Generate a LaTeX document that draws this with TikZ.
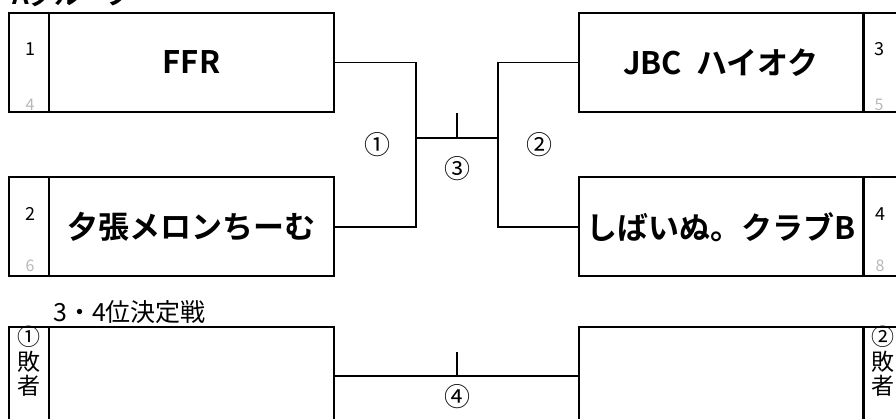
\documentclass[tikz,border=0pt]{standalone}
\usepackage{fontspec}
\setmainfont{Noto Sans CJK JP}[BoldFont={Noto Sans CJK JP Bold}]
\begin{document}
\begin{tikzpicture}[x=1pt,y=-1pt,
  box/.style={draw=black,line width=2pt,rectangle,inner sep=0pt,anchor=center},
  team/.style={box,minimum width=285pt,minimum height=99pt,font=\fontsize{31}{31}\selectfont\bfseries},
  seedbox/.style={box,minimum width=40pt,minimum height=99pt},
  seed/.style={inner sep=0pt,font=\fontsize{18}{18}\selectfont},
  gseed/.style={inner sep=0pt,text=black!28,font=\fontsize{16}{16}\selectfont},
  conn/.style={draw=black,line width=1.8pt},
  lbl/.style={inner sep=0pt,font=\fontsize{26}{26}\selectfont},
  loser/.style={inner sep=0pt,align=center,font=\fontsize{23}{24.5}\selectfont}]
\useasboundingbox (0,0) rectangle (896,419);
\clip (0,0) rectangle (896,419);
% title
\node[anchor=base west,inner sep=0pt,font=\fontsize{26}{26}\selectfont\bfseries] (title) at (12,5) {Aグループ};
% top-left
\node[seedbox] (s1) at (29,62.5) {};
\node[team] (t1) at (191.5,62.5) {FFR};
\node[seedbox] (s2) at (29,227) {};
\node[team] (t2) at (191.5,227) {夕張メロンちーむ};
% top-right
\node[team] (t3) at (721,62.5) {JBC\ \ ハイオク};
\node[seedbox] (s3) at (883,62.5) {};
\node[team] (t4) at (721,227) {しばいぬ。クラブB};
\node[seedbox] (s4) at (883,227) {};
% seeds
\node[seed] (n1) at (30,49) {1};
\node[gseed] (g1) at (30,105) {4};
\node[seed] (n2) at (30,214) {2};
\node[gseed] (g2) at (30,266) {6};
\node[seed] (n3) at (879,49) {3};
\node[gseed] (g3) at (879,105) {5};
\node[seed] (n4) at (880,214) {4};
\node[gseed] (g4) at (880,266) {8};
% bracket
\coordinate (j1) at (416,138);
\coordinate (j2) at (498,138);
\coordinate (tk) at (457,113);
\draw[conn] (t1.east) -| (j1) |- (t2.east);
\draw[conn] (t3.west) -| (j2) |- (t4.west);
\draw[conn] (j1) -- (j2);
\draw[conn] (tk) -- (tk |- j1);
\node[lbl] (c1) at (377,145) {①};
\node[lbl] (c2) at (539,145) {②};
\node[lbl] (c3) at (457,169) {③};
% third place
\node[anchor=base west,inner sep=0pt,font=\fontsize{25}{25}\selectfont] (third) at (53,322) {3・4位決定戦};
\node[box,minimum width=40pt,minimum height=113pt] (bs1) at (29,383.5) {};
\node[box,minimum width=285pt,minimum height=113pt] (b1) at (191.5,383.5) {};
\node[box,minimum width=285pt,minimum height=113pt] (b2) at (721,383.5) {};
\node[box,minimum width=40pt,minimum height=113pt] (bs2) at (883,383.5) {};
\node[loser,anchor=north] (l1) at (29,326) {①\\敗\\者};
\node[loser,anchor=north] (l2) at (883,326) {②\\敗\\者};
\coordinate (m4) at (457,376);
\coordinate (tk4) at (457,352);
\draw[conn] (b1.east |- m4) -- (b2.west |- m4);
\draw[conn] (tk4) -- (m4);
\node[lbl] (c4) at (457,397) {④};
\end{tikzpicture}
\end{document}
